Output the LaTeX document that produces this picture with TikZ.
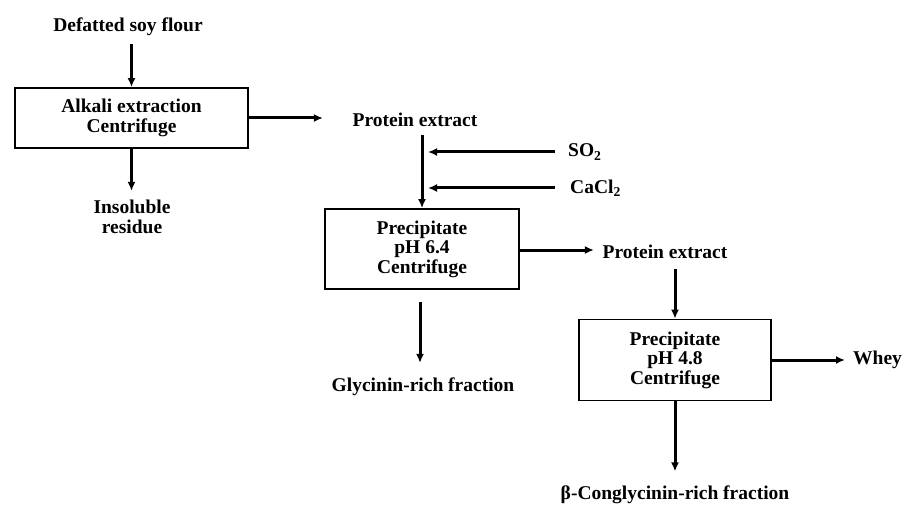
\documentclass[tikz,border=0pt]{standalone}
\usepackage{fontspec}
\setmainfont{Liberation Serif}
\usetikzlibrary{arrows.meta}

\begin{document}
\begin{tikzpicture}[x=1pt,y=-1pt,
    txt/.style={font=\bfseries\fontsize{19.5}{19.5}\selectfont,align=center,inner sep=2pt},
    stepbox/.style={txt,draw,line width=1.8pt},
    flow/.style={line width=3pt,-{Latex[length=9pt,width=8pt]}}]
    \useasboundingbox (0,0) rectangle (902,505);
    \node[txt] (flour) at (128,27) {Defatted soy flour};
    \node[stepbox,minimum width=233pt,minimum height=60pt] (alk) at (131.5,118) {Alkali extraction\\Centrifuge};
    \node[txt] (res) at (132,217) {Insoluble\\residue};
    \node[txt] (pe1) at (415,120) {Protein extract};
    \node[txt,anchor=west] (so2) at (566,152) {SO\textsubscript{2}};
    \node[txt,anchor=west] (cacl) at (568,188) {CaCl\textsubscript{2}};
    \node[stepbox,minimum width=194pt,minimum height=80pt] (ph64) at (422,249) {Precipitate\\pH 6.4\\Centrifuge};
    \node[txt] (pe2) at (665,252) {Protein extract};
    \node[txt] (gly) at (423,387) {Glycinin-rich fraction};
    \node[stepbox,minimum width=192pt,minimum height=81pt] (ph48) at (675,360) {Precipitate\\pH 4.8\\Centrifuge};
    \node[txt,anchor=west] (whey) at (851,360) {Whey};
    \node[txt] (beta) at (675,495) {β-Conglycinin-rich fraction};
    \draw[flow] (flour.south -| alk.north) ++(0,6) -- (alk.north);
    \draw[flow] (alk.south) -- ++(0,42);
    \draw[flow] (alk.east) -- ++(74,0);
    \draw[flow] (pe1.south -| ph64.north) ++(0,6) -- (ph64.north);
    \draw[flow] (so2.west) ++(-11,0) -- ++(-127,0);
    \draw[flow] (cacl.west) ++(-13,0) -- ++(-127,0);
    \draw[flow] (ph64.east) ++(0,1) -- ++(74,0);
    \draw[flow] (ph64.south) ++(-2,12) -- ++(0,61);
    \draw[flow] (pe2.south -| ph48.north) ++(0,8) -- (ph48.north);
    \draw[flow,shorten >=6pt] (ph48.east) -- (whey.west);
    \draw[flow] (ph48.south) -- ++(0,70);
\end{tikzpicture}
\end{document}
